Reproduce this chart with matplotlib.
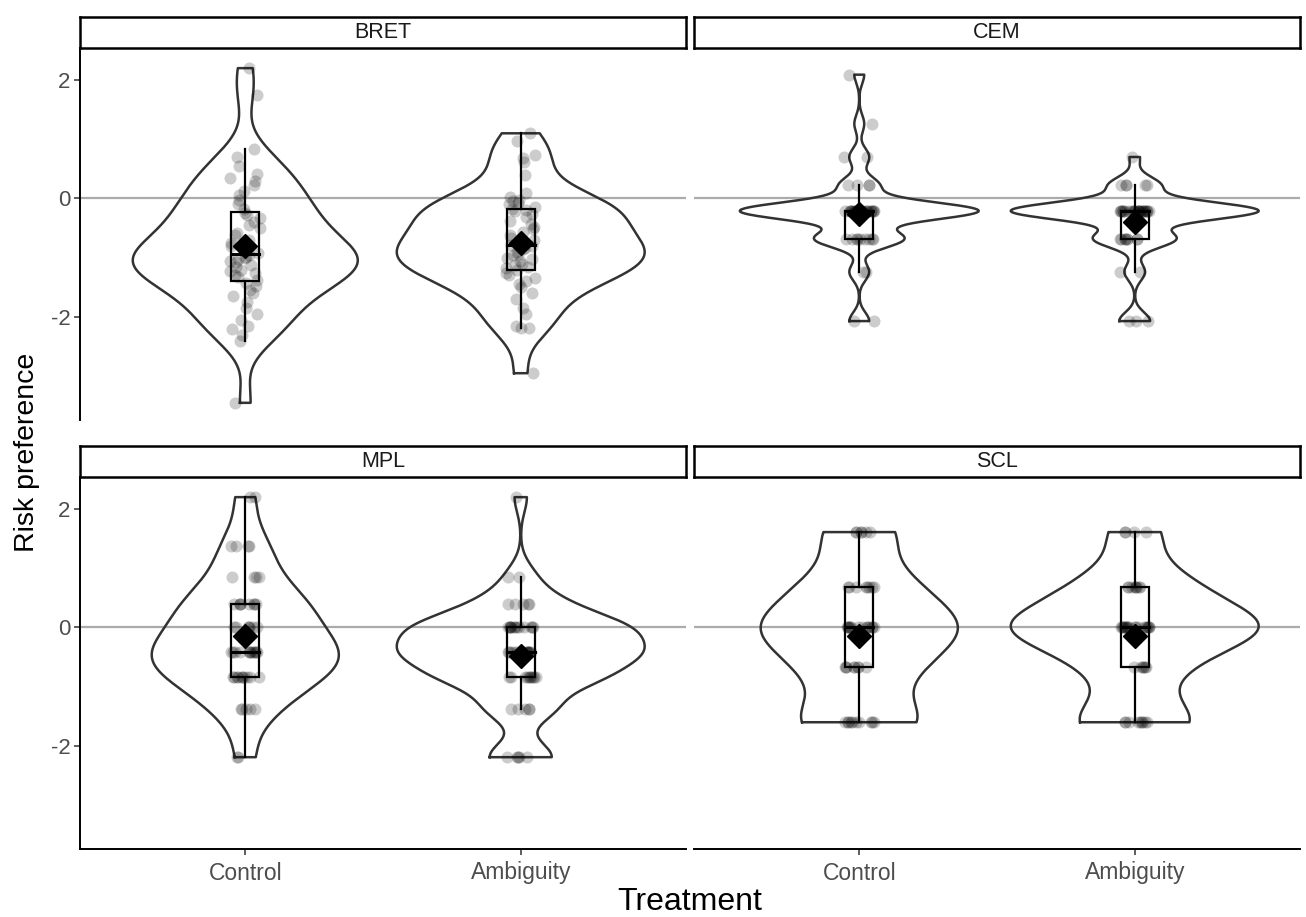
import numpy as np
import matplotlib
matplotlib.use("Agg")
import matplotlib.pyplot as plt

plt.rcParams['font.family'] = ['Liberation Sans', 'DejaVu Sans']

# risk preference scores (standardised) by elicitation method and treatment
treatments = ["Control", "Ambiguity"]
methods = ["BRET", "CEM", "MPL", "SCL"]

bret_control = [
    2.2, 1.74, 0.83, 0.7, 0.55, 0.42, 0.35, 0.3, 0.22, 0.12, 0.05, -0.02, -0.1, -0.18,
    -0.24, -0.28, -0.33, -0.4, -0.45, -0.5, -0.58, -0.62, -0.7, -0.75, -0.8, -0.85,
    -0.88, -0.92, -0.95, -0.98, -1.0, -1.02, -1.05, -1.08, -1.12, -1.15, -1.2, -1.22,
    -1.25, -1.3, -1.33, -1.38,
    -1.42, -1.48, -1.55, -1.6, -1.65, -1.75, -1.85, -1.95, -2.05, -2.15, -2.2, -2.3,
    -2.41, -3.45,
]
bret_ambiguity = [
    1.1, 0.97, 0.74, 0.68, 0.62, 0.4, 0.1, 0.02, -0.02, -0.05, -0.08, -0.1, -0.14, -0.17,
    -0.19, -0.22, -0.27, -0.32, -0.38, -0.43, -0.48, -0.52, -0.57, -0.62, -0.66, -0.7,
    -0.74, -0.78, -0.8, -0.83, -0.86, -0.9, -0.93, -0.96, -1.0, -1.03, -1.06, -1.1,
    -1.13, -1.15, -1.18, -1.2,
    -1.25, -1.3, -1.35, -1.4, -1.45, -1.5, -1.6, -1.7, -1.85, -1.95, -2.15, -2.18,
    -2.18, -2.95,
]

# discrete-valued methods: score levels and how many subjects sit on each
cem_levels = [2.09, 1.26, 0.70, 0.22, -0.21, -0.68, -1.24, -2.07]
cem_control_n = [1, 1, 2, 4, 24, 9, 2, 2]
cem_ambiguity_n = [0, 0, 1, 5, 24, 8, 2, 3]

mpl_levels = [2.2, 1.38, 0.85, 0.4, 0.0, -0.42, -0.84, -1.37, -2.19]
mpl_control_n = [2, 4, 4, 8, 7, 12, 10, 5, 2]
mpl_ambiguity_n = [1, 0, 2, 5, 13, 14, 10, 5, 5]

scl_levels = [1.61, 0.68, 0.0, -0.67, -1.6]
scl_control_n = [6, 8, 14, 8, 10]
scl_ambiguity_n = [4, 8, 18, 6, 9]


def expand(levels, counts):
    return np.repeat(np.array(levels, dtype=float), counts)


data = {
    "BRET": [np.array(bret_control), np.array(bret_ambiguity)],
    "CEM": [expand(cem_levels, cem_control_n), expand(cem_levels, cem_ambiguity_n)],
    "MPL": [expand(mpl_levels, mpl_control_n), expand(mpl_levels, mpl_ambiguity_n)],
    "SCL": [expand(scl_levels, scl_control_n), expand(scl_levels, scl_ambiguity_n)],
}


def bw_nrd0(x):
    sd = np.std(x, ddof=1)
    iqr = np.subtract(*np.percentile(x, [75, 25]))
    lo = min(sd, iqr / 1.34)
    if lo == 0:
        lo = sd if sd > 0 else 1.0
    return 0.9 * lo * len(x) ** -0.2


def kde(x, n=512):
    grid = np.linspace(x.min(), x.max(), n)
    bw = bw_nrd0(x)
    z = (grid[:, None] - x[None, :]) / bw
    dens = np.exp(-0.5 * z ** 2).sum(axis=1) / (len(x) * bw * np.sqrt(2 * np.pi))
    return grid, dens


def box_stats(x):
    q1, med, q3 = np.percentile(x, [25, 50, 75])
    iqr = q3 - q1
    lo = x[x >= q1 - 1.5 * iqr].min()
    hi = x[x <= q3 + 1.5 * iqr].max()
    return q1, med, q3, lo, hi


W, H = 1306, 917
fig = plt.figure(figsize=(W / 100, H / 100), dpi=100)
fig.patch.set_facecolor("white")


def px_axes(x0, y0, x1, y1):
    return fig.add_axes([x0 / W, 1 - y1 / H, (x1 - x0) / W, (y1 - y0) / H])


cols = [(80, 686), (694, 1300)]
rows = [(48, 420), (477, 849)]
strip_h = 31
ylim = (-3.74, 2.54)
rng = np.random.default_rng(7)

for k, method in enumerate(methods):
    r, c = divmod(k, 2)
    x0, x1 = cols[c]
    y0, y1 = rows[r]
    ax = px_axes(x0, y0, x1, y1)
    ax.set_xlim(0.4, 2.6)
    ax.set_ylim(*ylim)
    ax.axhline(0, color="#ababab", lw=1.6, zorder=1)

    groups = data[method]
    dens_all = [kde(g) for g in groups]
    dmax = max(d.max() for _, d in dens_all)

    for i, (g, (grid, dens)) in enumerate(zip(groups, dens_all)):
        pos = i + 1
        half = 0.45 * dens / dmax
        xs = np.concatenate([pos - half, (pos + half)[::-1], [pos - half[0]]])
        ys = np.concatenate([grid, grid[::-1], [grid[0]]])
        ax.plot(xs, ys, color="#333333", lw=1.8, zorder=2, solid_joinstyle="round")

        q1, med, q3, lo, hi = box_stats(g)
        bw = 0.05
        ax.plot([pos, pos], [q3, hi], color="black", lw=1.6, zorder=3)
        ax.plot([pos, pos], [lo, q1], color="black", lw=1.6, zorder=3)
        ax.add_patch(plt.Rectangle((pos - bw, q1), 2 * bw, q3 - q1, fill=False,
                                   edgecolor="black", lw=1.6, zorder=3))
        ax.plot([pos - bw, pos + bw], [med, med], color="black", lw=2.2, zorder=3)

        jitter = rng.uniform(-0.055, 0.055, len(g))
        ax.scatter(pos + jitter, g, s=75, color="black", alpha=0.2, lw=0, zorder=4)
        ax.plot([pos], [g.mean()], marker="D", ms=12, color="black", zorder=5)

    for side in ["top", "right"]:
        ax.spines[side].set_visible(False)
    ax.spines["left"].set_visible(c == 0)
    ax.spines["bottom"].set_visible(r == 1)
    for s in ax.spines.values():
        s.set_linewidth(1.4)

    ax.set_yticks([2, 0, -2])
    if c == 0:
        ax.set_yticklabels(["2", "0", "-2"])
        ax.tick_params(axis="y", length=4, width=1.1, labelsize=16,
                       labelcolor="#4d4d4d", color="#333333", pad=3)
    else:
        ax.tick_params(axis="y", length=0, labelleft=False)
    ax.set_xticks([1, 2])
    if r == 1:
        ax.set_xticklabels(treatments)
        ax.tick_params(axis="x", length=4, width=1.1, labelsize=16.5,
                       labelcolor="#4d4d4d", color="#333333", pad=5)
    else:
        ax.tick_params(axis="x", length=0, labelbottom=False)

    sax = px_axes(x0, y0 - strip_h, x1, y0)
    sax.set_xticks([])
    sax.set_yticks([])
    for s in sax.spines.values():
        s.set_linewidth(1.8)
        s.set_color("black")
    sax.text(0.5, 0.5, method, ha="center", va="center", fontsize=15.5,
             color="#1a1a1a", transform=sax.transAxes)

fig.text(27 / W, 1 - 452 / H, "Risk preference", rotation=90, ha="center",
         va="center", fontsize=20.5)
fig.text(690 / W, 1 - 902 / H, "Treatment", ha="center", va="center", fontsize=23)

fig.savefig("out.png", dpi=100, facecolor="white")
